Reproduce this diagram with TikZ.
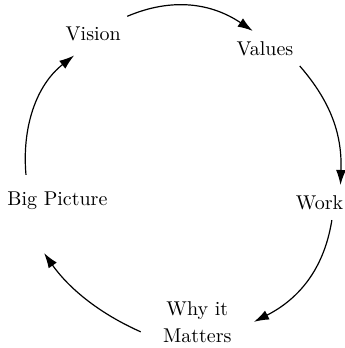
\documentclass[tikz,border=0pt]{standalone}
\usepackage{tikz}
\usetikzlibrary{arrows.meta}

\begin{document}
\begin{tikzpicture}[
    label/.style={
        inner xsep=3pt,
        inner ysep=5pt,
        anchor=base
    },
    arrow/.style={-{Latex[length=7.5pt,width=5pt]}, line width=0.6pt}
]
\useasboundingbox (0,0) rectangle (6.06,6.12);

\node[label] (vision) at (1.64,5.41) {Vision};
\node[label] (values) at (4.66,5.15) {Values};
\node[label] (work) at (5.62,2.44) {Work};
\node[label] (bigpic) at (1.01,2.50) {Big Picture};
\node[label, anchor=center, inner xsep=11pt, align=center] (why) at (3.47,0.46) {Why it\\[1.5pt] Matters};

\draw[arrow] (vision.north east) to[out=23, in=146] (values.125);
\draw[arrow] (values.south east) to[out=-49, in=88] (work.40);
\draw[arrow] (work.-55) to[out=-99, in=27] (why.east);
\draw[arrow, shorten >=20pt] (why.190) to[out=156, in=-55] (bigpic.-152);
\draw[arrow, shorten <=3.5pt, shorten >=3.5pt] (bigpic.148) to[out=95, in=-142] (vision.-128);
\end{tikzpicture}
\end{document}
